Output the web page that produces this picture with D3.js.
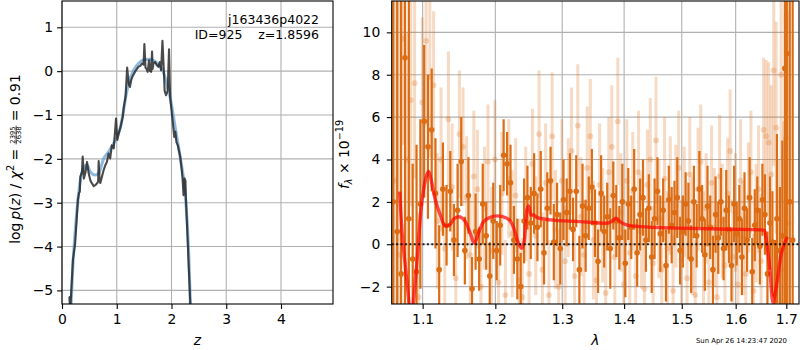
<!DOCTYPE html>
<html>
<head>
<meta charset="utf-8">
<script src="https://cdn.jsdelivr.net/npm/d3@7"></script>
<style>
  body { margin: 0; background: #fff; }
  svg { font-family: "DejaVu Sans", sans-serif; }
</style>
</head>
<body>
<svg id="fig" width="800" height="350"></svg>
<script>
// ---- p(z) panel ----
var zSmooth = [0.16,0.20,0.244,0.29,0.335,0.396,0.457,0.518,0.609,0.67,0.76,0.85,0.975,1.07,1.13,1.17,1.22,1.30,1.40,1.50,1.60,1.70,1.78,1.85,1.92,1.974,2.066,2.157,2.25,2.31,2.35];
var lnpSmooth = [-5.5,-4.4,-3.6,-2.95,-2.49,-2.2,-2.14,-2.30,-2.37,-2.33,-2.0,-1.84,-1.57,-1.27,-0.85,-0.55,-0.26,0.0,0.18,0.26,0.27,0.22,0.12,-0.02,-0.30,-0.59,-1.27,-1.95,-2.79,-4.0,-5.5];

var zRaw = [0.125,0.135,0.15,0.17,0.20,0.24,0.29,0.31,0.325,0.335,0.365,0.378,0.40,0.43,0.457,0.487,0.52,0.548,0.58,0.61,0.645,0.66,0.67,0.685,0.70,0.73,0.76,0.79,0.82,0.85,0.88,0.91,0.945,0.987,1.01,1.04,1.07,1.11,1.13,1.16,1.19,1.22,1.24,1.265,1.285,1.32,1.35,1.395,1.43,1.46,1.49,1.505,1.525,1.545,1.565,1.59,1.61,1.63,1.645,1.655,1.67,1.70,1.73,1.76,1.785,1.81,1.835,1.86,1.875,1.90,1.93,1.955,1.975,2.02,2.05,2.07,2.09,2.115,2.16,2.20,2.22,2.24,2.255,2.262,2.30,2.35];
var lnpRaw = [-5.15,-5.15,-5.5,-5.0,-4.3,-3.93,-2.94,-2.78,-2.75,-2.41,-2.3,-1.95,-2.45,-2.3,-2.07,-2.33,-2.5,-2.56,-2.62,-2.60,-2.55,-2.52,-2.05,-2.45,-2.55,-2.4,-2.26,-2.15,-2.07,-1.88,-1.99,-1.69,-1.76,-1.08,-1.57,-1.4,-1.27,-1.04,-0.81,-0.59,0.08,-0.30,-0.36,-0.20,-0.13,-0.05,0.02,0.10,0.12,0.175,0.15,0.62,0.08,0.05,-0.015,0.25,0.0,-0.015,0.45,0.05,0.175,0.21,0.14,0.10,0.21,0.02,0.69,0.02,-0.45,-0.55,-0.45,0.50,-0.59,-1.12,-1.50,-1.38,-1.62,-1.69,-1.95,-2.41,-2.83,-2.45,-2.5,-2.86,-4.0,-5.5];

var zTicks = [0, 1, 2, 3, 4];
var lnpTicks = [-5, -4, -3, -2, -1, 0, 1];

// ---- spectrum panel: [wavelength, flux, error] ----
var specDark = [
  [1.062,2.0,16],[1.067,0.6,15],[1.072,-1.4,16],[1.077,8.8,18],[1.082,1.2,14],[1.087,-0.7,4.5],[1.092,-1.3,6],
  [1.097,1.9,4.0],[1.102,5.8,3.6],[1.107,4.6,3.4],[1.112,5.4,2.9],[1.117,2.4,2.6],[1.122,-1.2,2.1],[1.127,2.6,2.2],
  [1.132,0.9,1.9],[1.137,2.5,1.9],[1.142,0.2,1.7],[1.147,1.6,2.2],[1.152,3.9,2.1],[1.157,-0.3,1.6],[1.162,2.3,1.8],
  [1.167,-2.1,1.5],[1.172,0.6,1.8],[1.177,-0.7,1.5],[1.182,1.9,1.9],[1.187,0.4,1.6],[1.192,-1.5,1.6],[1.197,1.1,1.8],
  [1.202,-0.3,1.4],[1.207,0.9,1.9],[1.212,4.2,1.7],[1.217,3.8,1.5],[1.222,2.9,1.8],[1.227,0.2,1.6],[1.232,-0.7,1.9],
  [1.237,-2.0,1.6],[1.242,1.1,2.0],[1.247,2.2,1.5],[1.252,1.0,1.7],[1.257,2.4,1.9],[1.262,0.8,1.6],[1.267,2.6,1.8],
  [1.272,-0.4,1.5],[1.277,1.7,1.7],[1.282,3.0,1.6],[1.287,0.1,1.8],[1.292,1.4,1.5],[1.297,-0.2,1.7],[1.302,2.1,1.9],
  [1.307,1.5,1.6],[1.312,2.5,1.8],[1.317,0.7,1.5],[1.322,2.5,1.7],[1.327,-1.2,1.6],[1.332,1.8,2.0],[1.337,0.4,1.7],
  [1.342,1.7,1.5],[1.347,2.7,1.8],[1.352,1.0,1.6],[1.357,-0.8,1.5],[1.362,2.4,1.8],[1.367,0.6,1.7],[1.372,1.3,1.6],
  [1.377,-0.2,1.9],[1.382,2.3,1.6],[1.387,1.1,1.7],[1.392,0.3,1.5],[1.397,2.0,1.8],[1.402,-0.9,1.6],[1.407,1.9,1.7],
  [1.412,0.8,1.5],[1.417,2.6,1.9],[1.422,-0.4,1.6],[1.427,1.4,1.7],[1.432,2.2,1.8],[1.437,0.2,1.5],[1.442,1.7,1.6],
  [1.447,-0.6,1.7],[1.452,1.2,1.9],[1.457,2.5,1.6],[1.462,0.5,1.8],[1.467,1.6,1.5],[1.472,-1.0,1.7],[1.477,2.1,1.6],
  [1.482,0.9,1.8],[1.487,1.5,1.5],[1.492,2.2,1.9],[1.497,-0.3,1.6],[1.502,0.6,1.7],[1.507,1.9,1.5],[1.512,1.1,1.8],
  [1.517,-0.7,1.6],[1.522,2.0,1.7],[1.527,0.4,1.5],[1.532,2.6,1.8],[1.537,1.2,1.6],[1.542,-0.5,1.7],[1.547,1.8,1.9],
  [1.552,0.8,1.5],[1.557,-1.2,1.6],[1.562,1.4,1.8],[1.567,0.3,1.7],[1.572,2.0,1.6],[1.577,-0.2,1.5],[1.582,1.6,1.9],
  [1.587,0.7,1.6],[1.592,-1.0,1.7],[1.597,1.9,1.8],[1.602,0.5,1.5],[1.607,1.2,1.6],[1.612,-0.6,1.8],[1.617,1.7,1.7],
  [1.622,0.2,1.5],[1.627,2.2,1.9],[1.632,-1.3,1.6],[1.637,0.9,1.7],[1.642,1.6,1.6],[1.647,-0.1,1.8],[1.652,2.1,1.7],
  [1.657,1.4,1.9],[1.662,-1.4,2.0],[1.667,1.0,2.2],[1.672,0.1,2.4],[1.677,-2.4,2.6],[1.681,1.2,4.0],[1.687,-0.3,3.0],
  [1.692,0.4,4.5],[1.697,8.3,14],[1.701,9.0,16],[1.707,2.0,14],[1.713,0.2,15]
];
var specLight = [
  [1.0645,3.0,14],[1.0695,-0.5,14],[1.0745,9.7,5],[1.0795,4.0,6],[1.0845,6.8,5],[1.0895,7.6,4.5],[1.0945,-2.5,4],
  [1.0995,6.7,4],[1.1045,9.6,4],[1.1095,7.9,3.8],[1.1145,7.5,3.5],[1.1195,1.1,3.2],[1.1245,4.0,3.4],[1.1295,-0.2,3.0],
  [1.1345,5.9,3.2],[1.1395,2.7,3.0],[1.1445,-1.6,2.8],[1.1495,5.2,3.0],[1.1545,4.6,2.8],[1.1595,2.2,2.9],[1.1645,-0.5,2.7],
  [1.1695,3.2,3.1],[1.1745,2.6,2.8],[1.1795,-2.0,2.6],[1.1845,1.7,2.9],[1.1895,3.9,2.7],[1.1945,-0.3,3.0],[1.1995,4.0,2.8],
  [1.2045,-1.8,2.7],[1.2095,2.4,2.9],[1.2145,-2.4,2.6],[1.2195,3.1,2.8],[1.2245,0.5,3.0],[1.2295,2.3,2.7],[1.2345,-1.7,2.9],
  [1.2395,-2.5,2.8],[1.2445,1.9,2.7],[1.2495,-1.4,2.9],[1.2545,3.8,2.6],[1.2595,0.4,2.8],[1.2645,5.2,3.0],[1.2695,-1.2,2.7],
  [1.2745,2.9,2.8],[1.2795,-2.4,2.6],[1.2845,5.1,3.0],[1.2895,0.7,2.8],[1.2945,-2.0,2.7],[1.2995,3.0,2.9],[1.3045,-0.8,2.6],
  [1.3095,2.2,2.8],[1.3145,4.4,3.0],[1.3195,-1.5,2.7],[1.3245,5.6,2.9],[1.3295,1.3,2.8],[1.3345,-0.5,2.6],[1.3395,3.6,2.9],
  [1.3445,5.1,2.7],[1.3495,0.2,2.8],[1.3545,-1.7,2.6],[1.3595,2.8,2.9],[1.3645,0.9,2.7],[1.3695,-2.3,2.8],[1.3745,3.4,2.6],
  [1.3795,4.6,2.9],[1.3845,-0.6,2.7],[1.3895,5.8,3.0],[1.3945,1.5,2.8],[1.3995,-1.9,2.6],[1.4045,3.0,2.9],[1.4095,-0.4,2.7],
  [1.4145,2.5,2.8],[1.4195,-1.5,2.6],[1.4245,3.4,2.9],[1.4295,0.6,2.7],[1.4345,-2.1,2.8],[1.4395,2.8,2.6],[1.4445,4.0,2.9],
  [1.4495,-0.9,2.7],[1.4545,4.9,3.0],[1.4595,1.2,2.8],[1.4645,-1.2,2.6],[1.4695,3.1,2.9],[1.4745,-0.2,2.7],[1.4795,2.3,2.8],
  [1.4845,-2.2,2.6],[1.4895,1.8,2.9],[1.4945,3.6,2.7],[1.4995,-0.7,2.8],[1.5045,2.0,2.6],[1.5095,-1.6,2.9],[1.5145,3.3,2.7],
  [1.5195,0.4,2.8],[1.5245,-2.4,2.6],[1.5295,2.6,2.9],[1.5345,3.9,2.7],[1.5395,-0.3,2.8],[1.5445,1.7,2.6],[1.5495,-1.8,2.9],
  [1.5545,2.9,2.7],[1.5595,0.8,2.8],[1.5645,-2.5,2.6],[1.5695,3.2,2.9],[1.5745,1.1,2.7],[1.5795,-1.0,2.8],[1.5845,2.4,2.6],
  [1.5895,4.4,2.9],[1.5945,-0.6,2.7],[1.5995,1.5,2.8],[1.6045,-1.9,2.6],[1.6095,3.0,2.9],[1.6145,0.3,2.7],[1.6195,-1.4,2.8],
  [1.6245,2.2,2.6],[1.6295,3.4,2.9],[1.6345,-2.2,2.7],[1.6395,1.0,2.8],[1.6445,2.6,3.0],[1.6495,-0.8,3.2],[1.6545,5.4,3.4],
  [1.6595,5.1,3.6],[1.6645,4.8,3.8],[1.6695,3.3,4.2],[1.6745,8.2,4.5],[1.6795,5.5,5],[1.6845,-1.5,5.5],[1.6895,8.0,6],
  [1.6945,-1.2,7],[1.6995,5.0,8],[1.7045,1.0,10]
];
var modelLam = [1.0702,1.0733,1.0775,1.0818,1.085,1.0882,1.0927,1.0970,1.1036,1.1079,1.1102,1.1168,1.1235,1.1300,1.1360,1.1420,1.1484,1.1576,1.1645,1.1701,1.1761,1.1832,1.1927,1.2023,1.2167,1.2264,1.2336,1.2387,1.2425,1.2461,1.2491,1.2521,1.2560,1.2611,1.2813,1.3280,1.3711,1.3793,1.3864,1.3931,1.4042,1.4268,1.4966,1.5887,1.6500,1.6565,1.6598,1.6664,1.6730,1.6798,1.6899,1.6966,1.7020];
var modelFlux = [2.48,0.52,-1.06,-2.63,-4.0,-2.63,-0.74,1.30,3.04,3.43,3.19,2.09,1.38,0.86,0.91,1.20,1.30,1.07,0.52,0.05,0.52,1.07,1.27,1.34,1.23,0.80,0.05,-0.19,0.20,1.62,1.81,1.38,1.38,1.27,1.15,1.07,0.99,1.07,1.23,1.07,0.91,0.83,0.76,0.71,0.68,0.64,0.20,-1.06,-2.75,-2.0,-0.43,0.05,0.35];

var lamTicks = [1.1, 1.2, 1.3, 1.4, 1.5, 1.6, 1.7];
var fluxTicks = [-2, 0, 2, 4, 6, 8, 10];

var svg = d3.select("#fig");
var gridColor = "#b0b0b0";
var orange = "#dc6d14";

// frames of both panels
var L = {left: 62, right: 333, top: 1, bottom: 304};
var R = {left: 391.7, right: 799, top: 1, bottom: 304};

var xL = d3.scaleLinear().domain([0, 4.95]).range([L.left, L.right]);
var yL = d3.scaleLinear().domain([-5.31, 1.6]).range([L.bottom, L.top]);
var xR = d3.scaleLog().domain([1.06, 1.726]).range([R.left, R.right]);
var yR = d3.scaleLinear().domain([-2.82, 11.48]).range([R.bottom, R.top]);

var defs = svg.append("defs");
function clip(id, f) {
    defs.append("clipPath").attr("id", id).append("rect")
        .attr("x", f.left).attr("y", f.top)
        .attr("width", f.right - f.left).attr("height", f.bottom - f.top);
}
clip("clipL", L);
clip("clipR", R);

function grid(f, x, y, xt, yt) {
    var g = svg.append("g").attr("stroke", gridColor).attr("stroke-width", 1.1);
    g.selectAll(".gx").data(xt).enter().append("line")
        .attr("x1", d => x(d)).attr("x2", d => x(d))
        .attr("y1", f.top).attr("y2", f.bottom);
    g.selectAll(".gy").data(yt).enter().append("line")
        .attr("x1", f.left).attr("x2", f.right)
        .attr("y1", d => y(d)).attr("y2", d => y(d));
}
grid(L, xL, yL, zTicks, lnpTicks);
grid(R, xR, yR, lamTicks, fluxTicks);

// p(z) curves
var pL = svg.append("g").attr("clip-path", "url(#clipL)");
pL.append("path")
    .datum(d3.zip(zSmooth, lnpSmooth))
    .attr("d", d3.line().x(d => xL(d[0])).y(d => yL(d[1])).curve(d3.curveMonotoneX))
    .attr("fill", "none").attr("stroke", "#5d9cd0")
    .attr("stroke-opacity", 0.7).attr("stroke-width", 3);
pL.append("path")
    .datum(d3.zip(zRaw, lnpRaw))
    .attr("d", d3.line().x(d => xL(d[0])).y(d => yL(d[1])))
    .attr("fill", "none").attr("stroke", "#222")
    .attr("stroke-opacity", 0.82).attr("stroke-width", 2.1)
    .attr("stroke-linejoin", "round");

// spectrum
var pR = svg.append("g").attr("clip-path", "url(#clipR)");

function errbars(data, opac, w, r) {
    var g = pR.append("g");
    g.selectAll("line").data(data).enter().append("line")
        .attr("x1", d => xR(d[0])).attr("x2", d => xR(d[0]))
        .attr("y1", d => yR(d[1] - d[2])).attr("y2", d => yR(d[1] + d[2]))
        .attr("stroke", orange).attr("stroke-opacity", opac).attr("stroke-width", w);
    g.selectAll("circle").data(data).enter().append("circle")
        .attr("cx", d => xR(d[0])).attr("cy", d => yR(d[1])).attr("r", r)
        .attr("fill", orange).attr("fill-opacity", opac);
}
errbars(specLight, 0.25, 3, 2.9);
errbars(specDark, 1, 2.2, 2.8);

pR.append("path")
    .datum(d3.zip(modelLam, modelFlux))
    .attr("d", d3.line().x(d => xR(d[0])).y(d => yR(d[1])).curve(d3.curveMonotoneX))
    .attr("fill", "none").attr("stroke", "red")
    .attr("stroke-opacity", 0.7).attr("stroke-width", 3.4);

pR.append("line")
    .attr("x1", R.left).attr("x2", R.right)
    .attr("y1", yR(0)).attr("y2", yR(0))
    .attr("stroke", "#000").attr("stroke-opacity", 0.85)
    .attr("stroke-width", 2).attr("stroke-dasharray", "2,2.4");

// axes
function axes(f, x, y, xt, yt, xfmt, yfmt, ypad) {
    var ax = svg.append("g").attr("transform", "translate(0," + f.bottom + ")")
        .call(d3.axisBottom(x).tickValues(xt).tickFormat(xfmt).tickSize(4.9).tickPadding(5.5));
    var ay = svg.append("g").attr("transform", "translate(" + f.left + ",0)")
        .call(d3.axisLeft(y).tickValues(yt).tickFormat(yfmt).tickSize(4.9).tickPadding(ypad));
    [ax, ay].forEach(function (a) {
        a.select(".domain").remove();
        a.selectAll(".tick line").attr("stroke", "#000").attr("stroke-width", 1.1);
        a.selectAll(".tick text").attr("fill", "#000")
            .style("font-family", "DejaVu Sans").style("font-size", "13.9px");
    });
    svg.append("rect")
        .attr("x", f.left).attr("y", f.top)
        .attr("width", f.right - f.left).attr("height", f.bottom - f.top)
        .attr("fill", "none").attr("stroke", "#000").attr("stroke-width", 1.1);
}
axes(L, xL, yL, zTicks, lnpTicks, d3.format("d"), d3.format("d"), 4);
axes(R, xR, yR, lamTicks, fluxTicks, d3.format(".1f"), d3.format("d"), 6.5);

// rotated label made of pieces
function mathLabel(tx, ty, pieces) {
    var g = svg.append("g").attr("transform", "translate(" + tx + "," + ty + ") rotate(-90)");
    var inner = g.append("g");
    var x = 0;
    pieces.forEach(function (p) {
        if (p.frac) {
            var fs = "6.8px";
            var n = inner.append("text").attr("y", -5).style("font-size", fs).text(p.frac[0]);
            var d = inner.append("text").attr("y", 1.0).style("font-size", fs).text(p.frac[1]);
            var wn = n.node().getComputedTextLength(), wd = d.node().getComputedTextLength();
            var w = Math.max(wn, wd) + 1.5;
            n.attr("x", x + (w - wn) / 2);
            d.attr("x", x + (w - wd) / 2);
            inner.append("line").attr("x1", x).attr("x2", x + w)
                .attr("y1", -3.9).attr("y2", -3.9).attr("stroke", "#000").attr("stroke-width", 0.7);
            x += w;
        } else {
            var t = inner.append("text").attr("x", x).attr("y", p.dy || 0)
                .style("font-size", p.small ? "9.7px" : "13.9px")
                .style("font-style", p.it ? "italic" : "normal")
                .text(p.t);
            x += t.node().getComputedTextLength();
        }
    });
    inner.attr("transform", "translate(" + (-x / 2) + ",0)");
}

mathLabel(20, 159, [
    {t: "log\u2009"}, {t: "p", it: true}, {t: "("}, {t: "z", it: true}, {t: ")\u00a0/\u00a0"},
    {t: "\u03c7", it: true}, {t: "2", small: true, dy: -6}, {t: "\u00a0=\u00a0"},
    {frac: ["2395", "2638"]}, {t: "\u00a0=\u00a00.91"}
]);
mathLabel(349, 154.5, [
    {t: "f", it: true}, {t: "\u03bb", it: true, small: true, dy: 2.8}, {t: "\u00a0\u00d7\u00a010"},
    {t: "\u221219", small: true, dy: -6}
]);

svg.append("text").attr("x", (L.left + L.right) / 2).attr("y", 345)
    .attr("text-anchor", "middle").style("font-size", "13.9px").style("font-style", "italic").text("z");
svg.append("text").attr("x", (R.left + R.right) / 2).attr("y", 345)
    .attr("text-anchor", "middle").style("font-size", "13.9px").style("font-style", "italic").text("\u03bb");

// annotations
svg.append("text").attr("x", 319).attr("y", 24).attr("text-anchor", "end")
    .style("font-size", "12.5px").text("j163436p4022");
svg.append("text").attr("x", 319).attr("y", 38.5).attr("text-anchor", "end")
    .style("font-size", "12.5px").text("ID=925\u00a0\u00a0\u00a0\u00a0z=1.8596");

svg.append("text").attr("x", 787).attr("y", 343).attr("text-anchor", "end")
    .style("font-size", "6.9px").text("Sun Apr 26 14:23:47 2020");
</script>
</body>
</html>
